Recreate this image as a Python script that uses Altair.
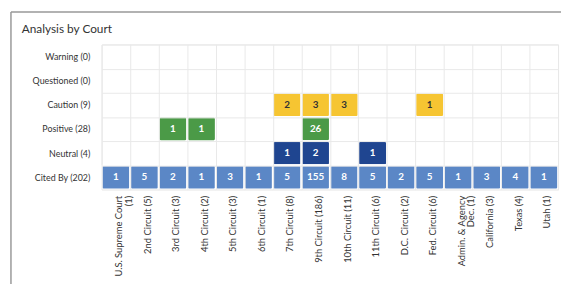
import altair as alt
import pandas as pd

courts = [
    "U.S. Supreme Court|(1)", "2nd Circuit (5)", "3rd Circuit (3)", "4th Circuit (2)",
    "5th Circuit (3)", "6th Circuit (1)", "7th Circuit (8)", "9th Circuit (186)",
    "10th Circuit (11)", "11th Circuit (6)", "D.C. Circuit (2)", "Fed. Circuit (6)",
    "Admin. & Agency|Dec. (1)", "California (3)", "Texas (4)", "Utah (1)",
]
rows = ["Warning (0)", "Questioned (0)", "Caution (9)", "Positive (28)", "Neutral (4)", "Cited By (202)"]

warning =    [None] * 16
questioned = [None] * 16
caution =    [None, None, None, None, None, None, 2, 3, 3, None, None, 1, None, None, None, None]
positive =   [None, None, 1, 1, None, None, None, 26, None, None, None, None, None, None, None, None]
neutral =    [None, None, None, None, None, None, 1, 2, None, 1, None, None, None, None, None, None]
cited_by =   [1, 5, 2, 1, 3, 1, 5, 155, 8, 5, 2, 5, 1, 3, 4, 1]

series = [warning, questioned, caution, positive, neutral, cited_by]
color_rows = ["Caution (9)", "Positive (28)", "Neutral (4)", "Cited By (202)"]
color_range = ["#f6c532", "#4b9a47", "#1f4590", "#5b87c6"]

title_text = "Analysis by Court"

records = []
for r, vals in zip(rows, series):
    for c, v in zip(courts, vals):
        if v is not None:
            records.append({"row": r, "court": c, "value": v})
df = pd.DataFrame(records)

FONT = "Lato"

x_enc = alt.X(
    "court:N", sort=courts, title=None,
    scale=alt.Scale(domain=courts, paddingInner=0, paddingOuter=0),
    axis=alt.Axis(
        orient="bottom", labelAngle=-90, labelAlign="right", labelBaseline="top",
        labelOffset=-2, labelPadding=6, labelFontSize=9.5, labelColor="#333",
        labelFont=FONT, labelLineHeight=10, labelExpr="split(datum.label, '|')",
        grid=True, gridColor="#e9e9e9", tickBand="extent", ticks=False, domain=False,
        labelLimit=200,
    ),
)
y_enc = alt.Y(
    "row:N", sort=rows, title=None,
    scale=alt.Scale(domain=rows, paddingInner=0, paddingOuter=0),
    axis=alt.Axis(
        labelPadding=12, labelFontSize=9, labelColor="#333", labelFont=FONT,
        grid=True, gridColor="#e9e9e9", tickBand="extent", ticks=False, domain=False,
    ),
)

base = alt.Chart(df)

cells = base.mark_rect(stroke="white", strokeWidth=1.8, cornerRadius=2).encode(
    x=x_enc,
    y=y_enc,
    color=alt.Color("row:N", scale=alt.Scale(domain=color_rows, range=color_range), legend=None),
)

labels = base.mark_text(font=FONT, fontSize=10, fontWeight="bold", baseline="middle", align="center").encode(
    x=alt.X("court:N", sort=courts, scale=alt.Scale(domain=courts)),
    y=alt.Y("row:N", sort=rows, scale=alt.Scale(domain=rows)),
    text="value:Q",
    color=alt.condition(alt.datum.row == "Caution (9)", alt.value("#333333"), alt.value("white")),
)

deco_data = alt.Data(values=[{"t": title_text}])
frame_left = alt.Chart(deco_data).mark_rule(color="#999999", strokeWidth=1.5).encode(
    x=alt.value(-92), y=alt.value(-33), y2=alt.value(245)
)
frame_top = alt.Chart(deco_data).mark_rule(color="#999999", strokeWidth=1.5).encode(
    x=alt.value(-92), x2=alt.value(470), y=alt.value(-33)
)
title = alt.Chart(deco_data).mark_text(
    font=FONT, fontSize=12, color="#333", align="left", baseline="alphabetic"
).encode(x=alt.value(-81), y=alt.value(-12), text="t:N")

chart = alt.layer(frame_left, frame_top, title, cells, labels).properties(
    width=463,
    height=147,
    autosize=alt.AutoSizeParams(type="none"),
    padding={"left": 95, "top": 35, "right": 3, "bottom": 94},
).configure_view(stroke="#e6e6e6")

chart.save("out.html", embed_options={"renderer": "svg", "actions": False})
